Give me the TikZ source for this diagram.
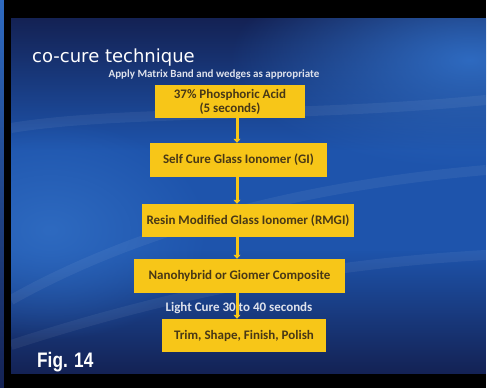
\documentclass[tikz,border=0pt]{standalone}
\usepackage{fontspec}
\setmainfont{Carlito}
\newfontfamily\titlefont{DejaVu Sans}
\newfontfamily\figfont{Liberation Sans}
\usetikzlibrary{arrows.meta,fadings}
\definecolor{boxyellow}{RGB}{247,198,24}
\definecolor{boxtext}{RGB}{72,56,22}
\definecolor{navy}{RGB}{20,34,84}
\definecolor{midblue}{RGB}{30,84,172}
\definecolor{lightblue}{RGB}{46,106,192}
\definecolor{subgray}{RGB}{222,226,236}
\tikzfading[name=fadedown, top color=transparent!0, bottom color=transparent!100]
\tikzfading[name=fadeup, top color=transparent!100, bottom color=transparent!0]
\tikzfading[name=softglow, inner color=transparent!0, outer color=transparent!100]
\tikzset{
  stepbox/.style={fill=boxyellow, text=boxtext, font=\bfseries\fontsize{13}{14}\selectfont,
    align=center, inner sep=0pt, minimum height=33pt},
  link/.style={draw=boxyellow, line width=3pt, -{Triangle[width=7pt,length=4pt]}},
  swoosh/.style={white, opacity=0.06, line width=10pt}
}

\begin{document}
\begin{tikzpicture}[x=1pt, y=-1pt]
\useasboundingbox (0,0) rectangle (488,388);
\fill[white] (0,0) rectangle (488,388);
\shade[top color=lightblue, bottom color=navy] (0,0) rectangle (4,388);
\fill[black] (4,0) rectangle (486,388);
% slide background
\begin{scope}
  \clip (11,18) rectangle (486,374);
  \fill[midblue] (11,18) rectangle (486,374);
  \fill[navy, path fading=fadedown] (11,18) rectangle (486,150);
  \fill[navy, path fading=fadeup] (11,250) rectangle (486,374);
  \fill[lightblue, path fading=softglow] (470,60) ellipse (240 and 110);
  \fill[lightblue, path fading=softglow] (50,230) ellipse (160 and 110);
  \draw[swoosh] (11,128) .. controls (120,110) and (300,118) .. (486,100);
  \draw[swoosh] (11,300) .. controls (100,250) and (250,190) .. (486,170);
  \draw[swoosh] (11,345) .. controls (150,300) and (300,265) .. (486,255);
\end{scope}

\node[anchor=base west, inner sep=0pt, text=white, font=\titlefont\fontsize{18}{18}\selectfont] (title) at (32,62) {co-cure technique};
\node[anchor=base, inner sep=0pt, text=subgray, font=\bfseries\fontsize{11}{11}\selectfont] (sub) at (214,77) {Apply Matrix Band and wedges as appropriate};

\node[stepbox, minimum width=150pt] (acid) at (230,101.5) {37\% Phosphoric Acid\\(5 seconds)};
\node[stepbox, minimum width=177pt, minimum height=34pt] (gi) at (238.5,160) {Self Cure Glass Ionomer (GI)};
\node[stepbox, minimum width=212pt] (rmgi) at (248,220.5) {Resin Modified Glass Ionomer (RMGI)};
\node[stepbox, minimum width=211pt, minimum height=34pt] (comp) at (239.5,276) {Nanohybrid or Giomer Composite};
\node[stepbox, minimum width=164pt] (trim) at (244,335.5) {Trim, Shape, Finish, Polish};
\node[anchor=base, inner sep=0pt, text=subgray, font=\bfseries\fontsize{13}{13}\selectfont] (cure) at (239,311) {Light Cure 30 to 40 seconds};

\coordinate (spine) at (237,0);
\draw[link] (acid.south -| spine) -- (gi.north -| spine);
\draw[link] (gi.south -| spine) -- (rmgi.north -| spine);
\draw[link] (rmgi.south -| spine) -- (comp.north -| spine);
\draw[link] (comp.south -| spine) -- (trim.north -| spine);

\node[anchor=base west, inner sep=0pt, text=white, font=\figfont\bfseries\fontsize{21}{21}\selectfont] (fig) at (37,367) {\scalebox{0.82}[1]{Fig. 14}};
\end{tikzpicture}
\end{document}
